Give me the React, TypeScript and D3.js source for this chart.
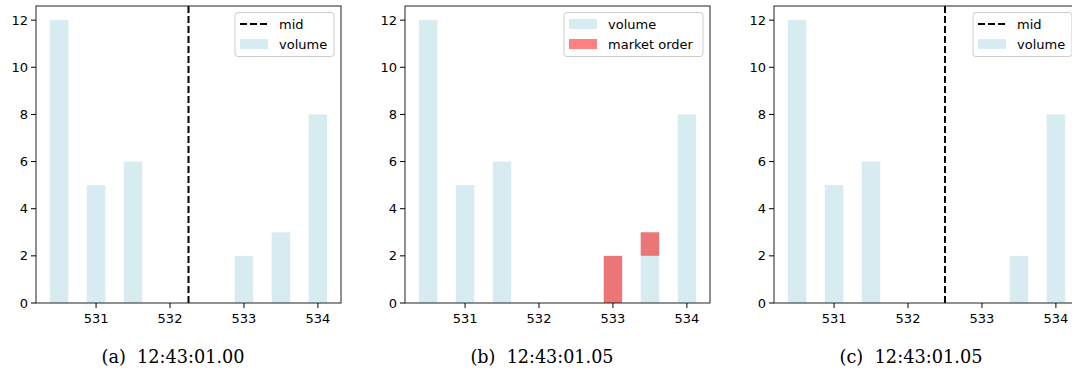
import * as d3 from "d3";
import React from "react";

// price levels of the order book
const prices = [530.5, 531, 531.5, 532, 532.5, 533, 533.5, 534];
const volumeA = [12, 5, 6, 0, 0, 2, 3, 8];
const volumeB = [12, 5, 6, 0, 0, 0, 2, 8];
const marketB = [0, 0, 0, 0, 0, 2, 1, 0];
const volumeC = [12, 5, 6, 0, 0, 0, 2, 8];
const midA = 532.25;
const midC = 532.5;
const xTicks = [531, 532, 533, 534];
const yTicks = [0, 2, 4, 6, 8, 10, 12];
const captions = ["(a)  12:43:01.00", "(b)  12:43:01.05", "(c)  12:43:01.05"];

const BLUE = "#d6ecf1";
const RED = "#ea7677";
const RED_LEGEND = "#ff8080";
const FONT = "'DejaVu Sans', sans-serif";
const FS = 13;

const barWidth = 0.25;
const axW = 305;
const top = 6;
const bottom = 303;

type PanelProps = {
  left: number;
  volume: number[];
  market?: number[];
  mid?: number;
  caption: string;
};

function Panel({ left, volume, market, mid, caption }: PanelProps) {
  const x = d3.scaleLinear().domain([530.1875, 534.3125]).range([left, left + axW]);
  const y = d3.scaleLinear().domain([0, 12.6]).range([bottom, top]);
  const bw = x(barWidth) - x(0);
  const right = left + axW;

  const legendItems: { label: string; kind: "line" | "patch"; color: string }[] = [];
  if (mid !== undefined) legendItems.push({ label: "mid", kind: "line", color: "#000" });
  legendItems.push({ label: "volume", kind: "patch", color: BLUE });
  if (market) legendItems.push({ label: "market order", kind: "patch", color: RED_LEGEND });
  const legW = market ? 139 : 99;
  const legX = right - 7 - legW;
  const txt = { fontFamily: FONT, fontSize: FS };

  return (
    <g>
      {prices.map((p, i) => (
        <rect
          key={"v" + i}
          x={x(p) - bw / 2}
          y={y(volume[i])}
          width={bw}
          height={y(0) - y(volume[i])}
          fill={BLUE}
        />
      ))}
      {market &&
        prices.map((p, i) => (
          <rect
            key={"m" + i}
            x={x(p) - bw / 2}
            y={y(volume[i] + market[i])}
            width={bw}
            height={y(volume[i]) - y(volume[i] + market[i])}
            fill={RED}
          />
        ))}
      {mid !== undefined && (
        <line
          x1={x(mid)}
          x2={x(mid)}
          y1={top}
          y2={bottom}
          stroke="#000"
          strokeWidth={2}
          strokeDasharray="7,3"
        />
      )}
      <rect x={left} y={top} width={axW} height={bottom - top} fill="none" stroke="#222" strokeWidth={1} />
      {xTicks.map((t) => (
        <g key={"x" + t}>
          <line x1={x(t)} x2={x(t)} y1={bottom} y2={bottom + 5} stroke="#000" />
          <text x={x(t)} y={bottom + 20} textAnchor="middle" style={txt} fill="#000">
            {t}
          </text>
        </g>
      ))}
      {yTicks.map((t) => (
        <g key={"y" + t}>
          <line x1={left - 5} x2={left} y1={y(t)} y2={y(t)} stroke="#000" />
          <text x={left - 8} y={y(t) + 4.5} textAnchor="end" style={txt} fill="#000">
            {t}
          </text>
        </g>
      ))}
      <g>
        <rect
          x={legX}
          y={12.5}
          width={legW}
          height={44}
          rx={3}
          fill="#fff"
          fillOpacity={0.8}
          stroke="#ccc"
          strokeWidth={1}
        />
        {legendItems.map((it, i) => {
          const cy = 24 + i * 20;
          return (
            <g key={it.label}>
              {it.kind === "line" ? (
                <line x1={legX + 5} x2={legX + 33} y1={cy} y2={cy} stroke="#000" strokeWidth={2} strokeDasharray="7,3" />
              ) : (
                <rect x={legX + 5} y={cy - 5} width={28} height={10} fill={it.color} />
              )}
              <text x={legX + 44} y={cy + 4.5} style={txt} fill="#000">
                {it.label}
              </text>
            </g>
          );
        })}
      </g>
      <text
        x={left + 137}
        y={363}
        textAnchor="middle"
        textLength={143}
        lengthAdjust="spacingAndGlyphs"
        style={{ fontFamily: "'DejaVu Serif', serif", fontSize: 18.5, whiteSpace: "pre" }}
        fill="#000"
      >
        {caption}
      </text>
    </g>
  );
}

export default function App() {
  return (
    <div style={{ position: "absolute", left: 0, top: 0 }}>
      <svg width={1072} height={373} style={{ display: "block", background: "#fff" }}>
        <Panel left={36} volume={volumeA} mid={midA} caption={captions[0]} />
        <Panel left={405} volume={volumeB} market={marketB} caption={captions[1]} />
        <Panel left={774} volume={volumeC} mid={midC} caption={captions[2]} />
      </svg>
    </div>
  );
}
